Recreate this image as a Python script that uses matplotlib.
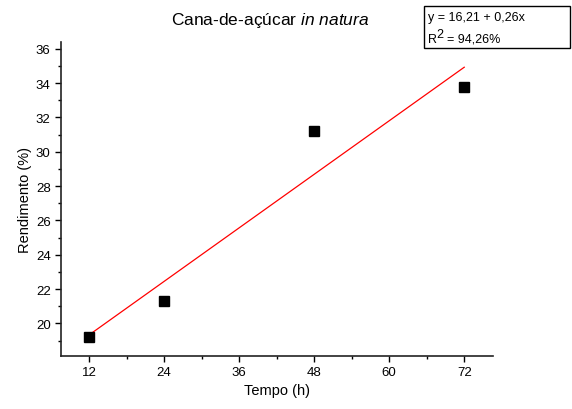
import matplotlib
matplotlib.use("Agg")
import matplotlib.pyplot as plt
from matplotlib.patches import Rectangle
from matplotlib.ticker import MultipleLocator

plt.rcParams['font.family'] = ['Liberation Sans', 'DejaVu Sans']
plt.rcParams['mathtext.fontset'] = 'custom'
plt.rcParams['mathtext.rm'] = 'Liberation Sans'
plt.rcParams['mathtext.it'] = 'Liberation Sans:italic'

tempo = [12, 24, 48, 72]
rendimento = [19.2, 21.3, 31.2, 33.8]
intercept, slope = 16.21, 0.26
r2_label = "94,26%"

fig = plt.figure(figsize=(5.72, 4.10), dpi=100)
# axes box: x 61..493 px, y 43..357 px
ax = fig.add_axes([61 / 572, 1 - 357 / 410, (493 - 61) / 572, (357 - 43) / 410])

fit_x = [tempo[0], tempo[-1]]
fit_y = [intercept + slope * x for x in fit_x]
ax.plot(fit_x, fit_y, color='red', lw=0.9)
ax.plot(tempo, rendimento, 's', color='black', ms=6.5)

ax.set_xlim(7.5, 76.6)
ax.set_ylim(18.1, 36.4)
ax.xaxis.set_major_locator(MultipleLocator(12))
ax.xaxis.set_minor_locator(MultipleLocator(6))
ax.yaxis.set_major_locator(MultipleLocator(2))
ax.yaxis.set_minor_locator(MultipleLocator(1))
ax.spines['top'].set_visible(False)
ax.spines['right'].set_visible(False)
for s in ('left', 'bottom'):
    ax.spines[s].set_linewidth(1.2)
    ax.spines[s].set_color('#222222')
ax.tick_params(which='major', length=4, width=1, labelsize=9.5)
ax.tick_params(which='minor', length=2.5, width=1)

ax.set_xlabel("Tempo (h)", fontsize=10.5, labelpad=3)
ax.set_ylabel("Rendimento (%)", fontsize=10.5, labelpad=3)

fig.text(0.473, 0.95, r"Cana-de-açúcar $\it{in\ natura}$", ha='center', va='center', fontsize=12.5)

# equation box, Origin style (big superscript 2)
box = Rectangle((424 / 572, 1 - 49 / 410), (570 - 424) / 572, 42 / 410,
                transform=fig.transFigure, fill=False, ec='black', lw=1)
fig.patches.append(box)
fig.text(428 / 572, 1 - 18 / 410, "y = 16,21 + 0,26x", ha='left', va='center', fontsize=9)
fig.text(428 / 572, 1 - 40 / 410, "R", ha='left', va='center', fontsize=9)
fig.text(436 / 572, 1 - 35 / 410, "2", ha='left', va='center', fontsize=9)
fig.text(447 / 572, 1 - 40 / 410, "= " + r2_label, ha='left', va='center', fontsize=9)

fig.savefig("out.png", dpi=100)
